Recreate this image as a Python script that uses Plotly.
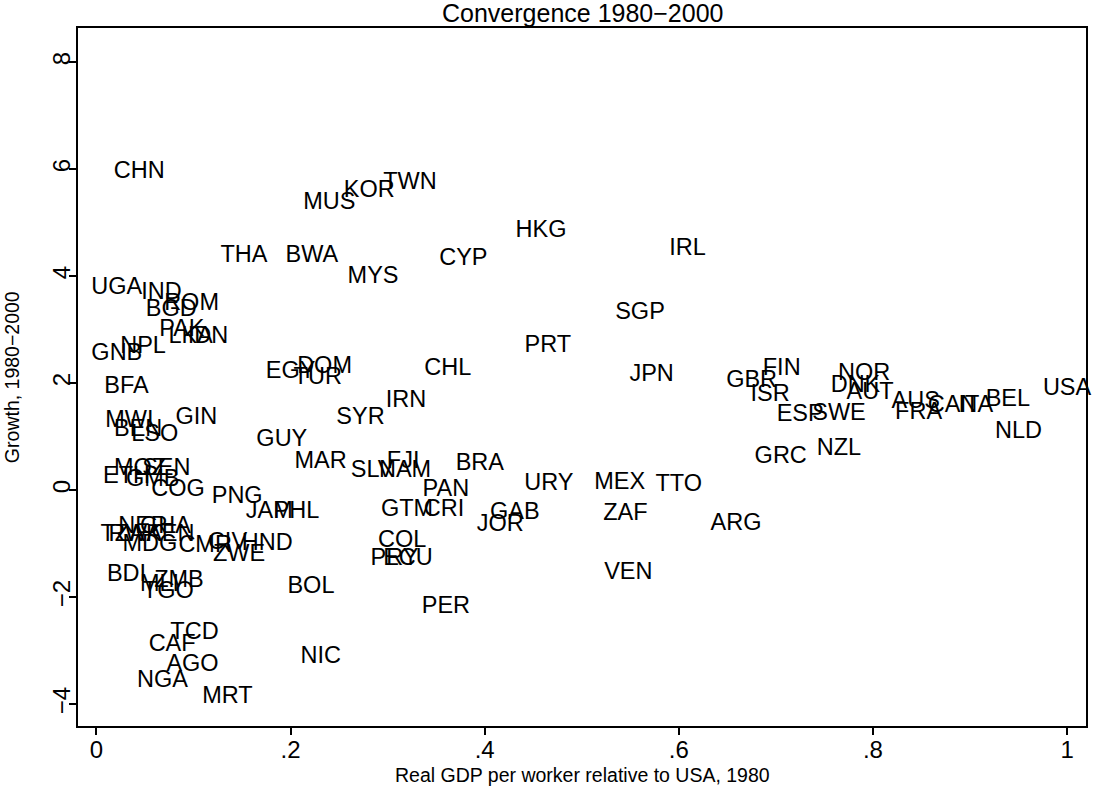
import plotly.graph_objects as go

codes = ["CHN","MUS","KOR","TWN","HKG","IRL","THA","BWA","CYP","MYS",
         "UGA","IND","BGD","ROM","SGP","PAK","LKA","IDN","NPL","GNB",
         "PRT","EGY","DOM","TUR","CHL","JPN","BFA","IRN","SYR","GIN",
         "MWI","BEN","LSO","GUY","MOZ","SEN","ETH","GMB","COG","PNG",
         "JAM","PHL","MAR","SLV","NAM","FJI","BRA","PAN","GTM","CRI",
         "JOR","GAB","COL","PRY","ECU","PER","URY","MEX","TTO","ZAF",
         "ARG","VEN","TZA","RWA","NER","GHA","KEN","MDG","CMR","CIV",
         "ZWE","HND","BDI","ZMB","MLI","TGO","BOL","TCD","CAF","AGO",
         "NGA","MRT","NIC",
         "FIN","GBR","ISR","NOR","DNK","AUT","ESP","SWE","AUS","FRA",
         "CAN","ITA","BEL","NLD","NZL","GRC","USA"]

gdp_rel_1980 = [0.044,0.240,0.281,0.323,0.458,0.609,0.152,0.222,0.378,0.285,
                0.021,0.067,0.077,0.098,0.560,0.088,0.097,0.115,0.048,0.021,
                0.465,0.200,0.235,0.228,0.362,0.572,0.031,0.319,0.272,0.103,
                0.034,0.043,0.060,0.191,0.045,0.072,0.031,0.058,0.084,0.145,
                0.178,0.206,0.231,0.284,0.318,0.316,0.395,0.360,0.320,0.358,
                0.416,0.431,0.315,0.307,0.321,0.360,0.466,0.539,0.600,0.545,
                0.659,0.548,0.027,0.040,0.048,0.071,0.076,0.055,0.112,0.135,
                0.147,0.176,0.031,0.085,0.065,0.074,0.221,0.101,0.078,0.099,
                0.068,0.135,0.231,
                0.706,0.675,0.694,0.791,0.782,0.797,0.725,0.765,0.844,0.847,
                0.882,0.906,0.939,0.950,0.765,0.705,1.000]

growth_80_00 = [5.94,5.36,5.59,5.74,4.84,4.50,4.37,4.37,4.32,3.98,
                3.78,3.68,3.36,3.48,3.31,2.99,2.86,2.86,2.67,2.54,
                2.69,2.21,2.30,2.09,2.26,2.15,1.93,1.66,1.35,1.35,
                1.29,1.12,1.03,0.93,0.39,0.39,0.24,0.19,0.00,-0.13,
                -0.41,-0.41,0.52,0.36,0.36,0.52,0.49,0.00,-0.37,-0.37,
                -0.65,-0.43,-0.95,-1.29,-1.29,-2.19,0.11,0.13,0.09,-0.45,
                -0.64,-1.55,-0.84,-0.84,-0.69,-0.69,-0.84,-1.03,-1.05,-0.99,
                -1.21,-1.01,-1.59,-1.70,-1.78,-1.91,-1.81,-2.67,-2.90,-3.27,
                -3.57,-3.87,-3.12,
                2.26,2.04,1.78,2.17,1.94,1.81,1.40,1.42,1.64,1.44,
                1.57,1.57,1.68,1.08,0.77,0.62,1.89]

x_tickvals = [0, 0.2, 0.4, 0.6, 0.8, 1.0]
x_ticktext = ["0", ".2", ".4", ".6", ".8", "1"]
y_tickvals = [-4, -2, 0, 2, 4, 6, 8]
y_ticktext = ["\u22124", "\u22122", "0", "2", "4", "6", "8"]

FONT = "Liberation Sans, Arial, sans-serif"

W, H = 1094, 800
L, R, T, B = 78, 6, 28, 74
ph = H - T - B
pw = W - L - R


def px_to_paper_x(px):
    return (px - L) / pw


def py_to_paper_y(py):
    return (H - B - py) / ph


fig = go.Figure()
fig.add_trace(go.Scatter(
    x=gdp_rel_1980, y=growth_80_00, mode="text", text=codes,
    textposition="middle center", cliponaxis=False,
    textfont=dict(family=FONT, size=23.5, color="black"),
    hoverinfo="text", showlegend=False,
))

axis_common = dict(showgrid=False, zeroline=False, showline=True, mirror=True,
                   linecolor="black", linewidth=1.5, ticks="outside",
                   ticklen=7, tickwidth=1.5, tickcolor="black",
                   tickfont=dict(family=FONT, size=24, color="black"))

fig.update_xaxes(range=[-0.019, 1.0195], tickvals=x_tickvals, ticktext=x_ticktext,
                 ticklabelstandoff=-6, **axis_common)
fig.update_yaxes(range=[-4.41, 8.64], tickvals=y_tickvals, ticktext=y_ticktext,
                 tickangle=-90, ticklabelstandoff=-10, **axis_common)

fig.update_layout(
    width=W, height=H,
    margin=dict(l=L, r=R, t=T, b=B),
    paper_bgcolor="white", plot_bgcolor="white",
    font=dict(family=FONT, color="black"),
    annotations=[
        dict(text="Convergence 1980\u22122000", xref="paper", yref="paper",
             x=0.5, y=py_to_paper_y(13), xanchor="center", yanchor="middle",
             showarrow=False, font=dict(family=FONT, size=25, color="black")),
        dict(text="Real GDP per worker relative to USA, 1980", xref="paper", yref="paper",
             x=0.5, y=py_to_paper_y(775), xanchor="center", yanchor="middle",
             showarrow=False, font=dict(family=FONT, size=19.5, color="black")),
        dict(text="Growth, 1980\u22122000", xref="paper", yref="paper",
             x=px_to_paper_x(12), y=0.5, xanchor="center", yanchor="middle",
             textangle=-90, showarrow=False,
             font=dict(family=FONT, size=19.5, color="black")),
    ],
)

fig.write_html("out.html", config={"displayModeBar": False},
               post_script="document.body.style.margin='0';")
